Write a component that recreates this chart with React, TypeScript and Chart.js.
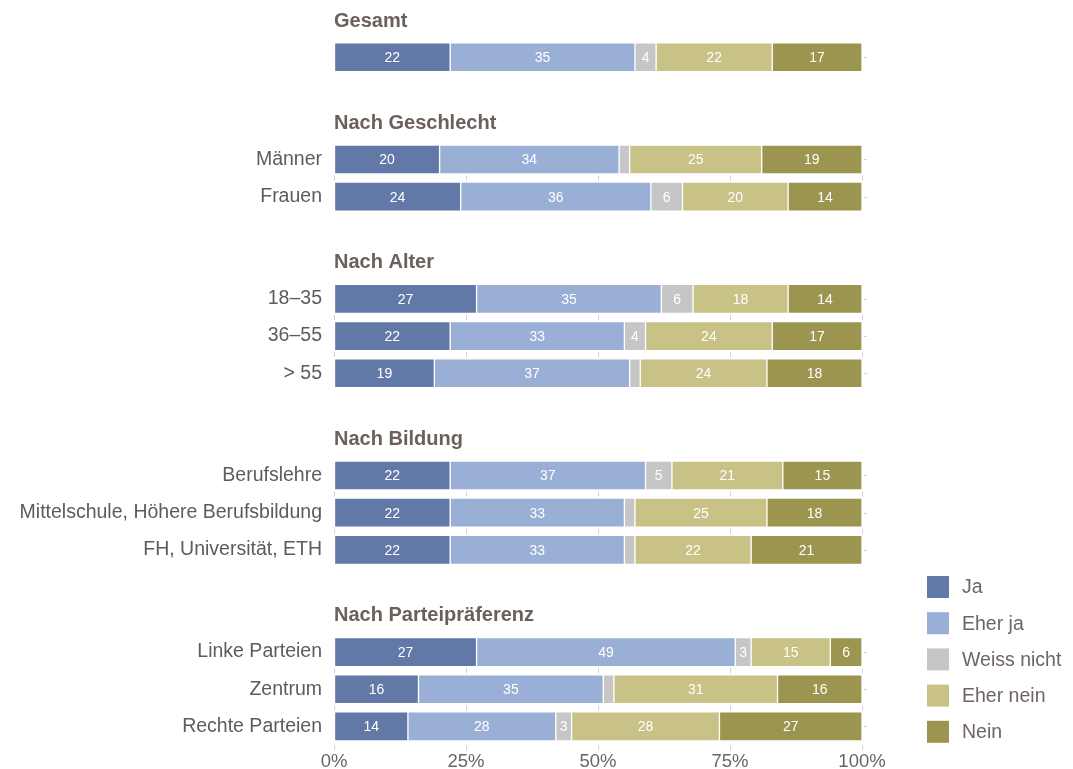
import React, { useEffect, useRef } from "react";
import { Chart, registerables } from "chart.js";

Chart.register(...registerables);

const groupTitles = ["Gesamt", "Nach Geschlecht", "Nach Alter", "Nach Bildung", "Nach Parteipräferenz"];
const rowLabels = [
  "",
  "Männer",
  "Frauen",
  "18–35",
  "36–55",
  "> 55",
  "Berufslehre",
  "Mittelschule, Höhere Berufsbildung",
  "FH, Universität, ETH",
  "Linke Parteien",
  "Zentrum",
  "Rechte Parteien",
];
const rowGroup = [0, 1, 1, 2, 2, 2, 3, 3, 3, 4, 4, 4];

const seriesNames = ["Ja", "Eher ja", "Weiss nicht", "Eher nein", "Nein"];
const ja = [22, 20, 24, 27, 22, 19, 22, 22, 22, 27, 16, 14];
const eherJa = [35, 34, 36, 35, 33, 37, 37, 33, 33, 49, 35, 28];
const weissNicht = [4, 2, 6, 6, 4, 2, 5, 2, 2, 3, 2, 3];
const eherNein = [22, 25, 20, 18, 24, 24, 21, 25, 22, 15, 31, 28];
const nein = [17, 19, 14, 14, 17, 18, 15, 18, 21, 6, 16, 27];
const xTicks = [0, 25, 50, 75, 100];

const colors = ["#6279a7", "#9aafd6", "#c6c6c6", "#c8c286", "#9c954f"];
const FONT = "'Liberation Sans', Arial, Helvetica, sans-serif";

// layout of rows on the linear index axis
const headerPos: number[] = [];
const rowPos: number[] = [];
(() => {
  let p = 0;
  for (let g = 0; g < groupTitles.length; g++) {
    headerPos.push(p);
    const rows = rowGroup.map((gg, i) => (gg === g ? i : -1)).filter((i) => i >= 0);
    rows.forEach((i, k) => {
      rowPos[i] = p + 1 + k;
    });
    p = p + rows.length + 1.75;
  }
})();

const allSeries = [ja, eherJa, weissNicht, eherNein, nein];

const decorPlugin = {
  id: "decor",
  beforeDatasetsDraw(chart: any) {
    const ctx = chart.ctx;
    const xs = chart.scales.x;
    const ys = chart.scales.y;
    ctx.save();
    ctx.strokeStyle = "#d2d2d2";
    ctx.lineWidth = 1;
    // short gap marks between consecutive rows in a group
    for (let i = 0; i < rowPos.length - 1; i++) {
      if (rowGroup[i] !== rowGroup[i + 1]) continue;
      const yMid = (ys.getPixelForValue(rowPos[i]) + ys.getPixelForValue(rowPos[i + 1])) / 2;
      xTicks.forEach((t) => {
        const x = Math.round(xs.getPixelForValue(t)) + 0.5;
        ctx.beginPath();
        ctx.moveTo(x, yMid - 2.5);
        ctx.lineTo(x, yMid + 2.5);
        ctx.stroke();
      });
    }
    // small right dashes
    rowPos.forEach((p) => {
      const y = Math.round(ys.getPixelForValue(p)) + 0.5;
      const x = xs.getPixelForValue(100);
      ctx.beginPath();
      ctx.moveTo(x + 2, y);
      ctx.lineTo(x + 5, y);
      ctx.stroke();
    });
    ctx.restore();
  },
  afterDatasetsDraw(chart: any) {
    const ctx = chart.ctx;
    const xs = chart.scales.x;
    const ys = chart.scales.y;
    ctx.save();
    // value labels
    ctx.font = `14px ${FONT}`;
    ctx.fillStyle = "#ffffff";
    ctx.textAlign = "center";
    ctx.textBaseline = "middle";
    chart.data.datasets.forEach((ds: any, di: number) => {
      const meta = chart.getDatasetMeta(di);
      meta.data.forEach((el: any, i: number) => {
        const v = allSeries[di][i];
        if (v < 3) return;
        const cx = (el.x + el.base) / 2;
        ctx.fillText(String(v), cx, el.y + 1);
      });
    });
    // group headers
    ctx.font = `bold 20px ${FONT}`;
    ctx.fillStyle = "#6b605c";
    ctx.textAlign = "left";
    headerPos.forEach((p, g) => {
      ctx.fillText(groupTitles[g], xs.left, ys.getPixelForValue(p) + 1);
    });
    // legend
    const lx = 927;
    const ly0 = 576;
    const step = 36.2;
    ctx.font = `19.5px ${FONT}`;
    seriesNames.forEach((n, k) => {
      const y = ly0 + k * step;
      ctx.fillStyle = colors[k];
      ctx.fillRect(lx, y, 22, 22);
      ctx.fillStyle = "#6e6562";
      ctx.fillText(n, 962, y + 12);
    });
    ctx.restore();
  },
};

export default function App() {
  const ref = useRef<HTMLCanvasElement | null>(null);
  useEffect(() => {
    if (!ref.current) return;
    const chart = new Chart(ref.current, {
      type: "bar",
      data: {
        datasets: allSeries.map((s, k) => ({
          label: seriesNames[k],
          data: s.map((v, i) => ({ x: v, y: rowPos[i] })),
          backgroundColor: colors[k],
          borderColor: "#ffffff",
          borderWidth: 1,
          borderSkipped: false,
          barThickness: 29,
        })),
      },
      plugins: [decorPlugin],
      options: {
        indexAxis: "y",
        animation: false,
        responsive: false,
        devicePixelRatio: 1,
        layout: { padding: { left: 0, right: 1073 - 862, top: 0, bottom: 0 } },
        plugins: { legend: { display: false }, tooltip: { enabled: false } },
        scales: {
          x: {
            type: "linear",
            stacked: true,
            min: 0,
            max: 100,
            offset: false,
            afterFit: (s: any) => {
              s.height = 24;
            },
            afterBuildTicks: (s: any) => {
              s.ticks = xTicks.map((v) => ({ value: v }));
            },
            ticks: {
              callback: (v: any) => `${v}%`,
              font: { family: FONT, size: 18.5 },
              color: "#666666",
              padding: 1,
              maxRotation: 0,
            },
            grid: { drawOnChartArea: false, drawTicks: true, tickLength: 5, color: "#d2d2d2" },
            border: { display: false },
          },
          y: {
            type: "linear",
            stacked: true,
            reverse: true,
            offset: false,
            min: -0.54,
            max: 19.5,
            afterFit: (s: any) => {
              s.width = 334;
              s.paddingTop = 0;
              s.paddingBottom = 0;
            },
            afterBuildTicks: (s: any) => {
              s.ticks = rowPos.map((v) => ({ value: v }));
            },
            ticks: {
              autoSkip: false,
              callback: (v: any) => {
                const i = rowPos.indexOf(Number(v));
                return i >= 0 ? rowLabels[i] : "";
              },
              font: { family: FONT, size: 19.5 },
              color: "#5c5c5c",
              padding: 12,
            },
            grid: { display: false, drawTicks: false, offset: false },
            border: { display: false },
          },
        },
      },
    } as any);
    return () => chart.destroy();
  }, []);
  return (
    <div style={{ position: "fixed", left: 0, top: 0, width: 1073, height: 769, background: "#fff" }}>
      <canvas ref={ref} width={1073} height={769} style={{ width: 1073, height: 769 }} />
    </div>
  );
}
